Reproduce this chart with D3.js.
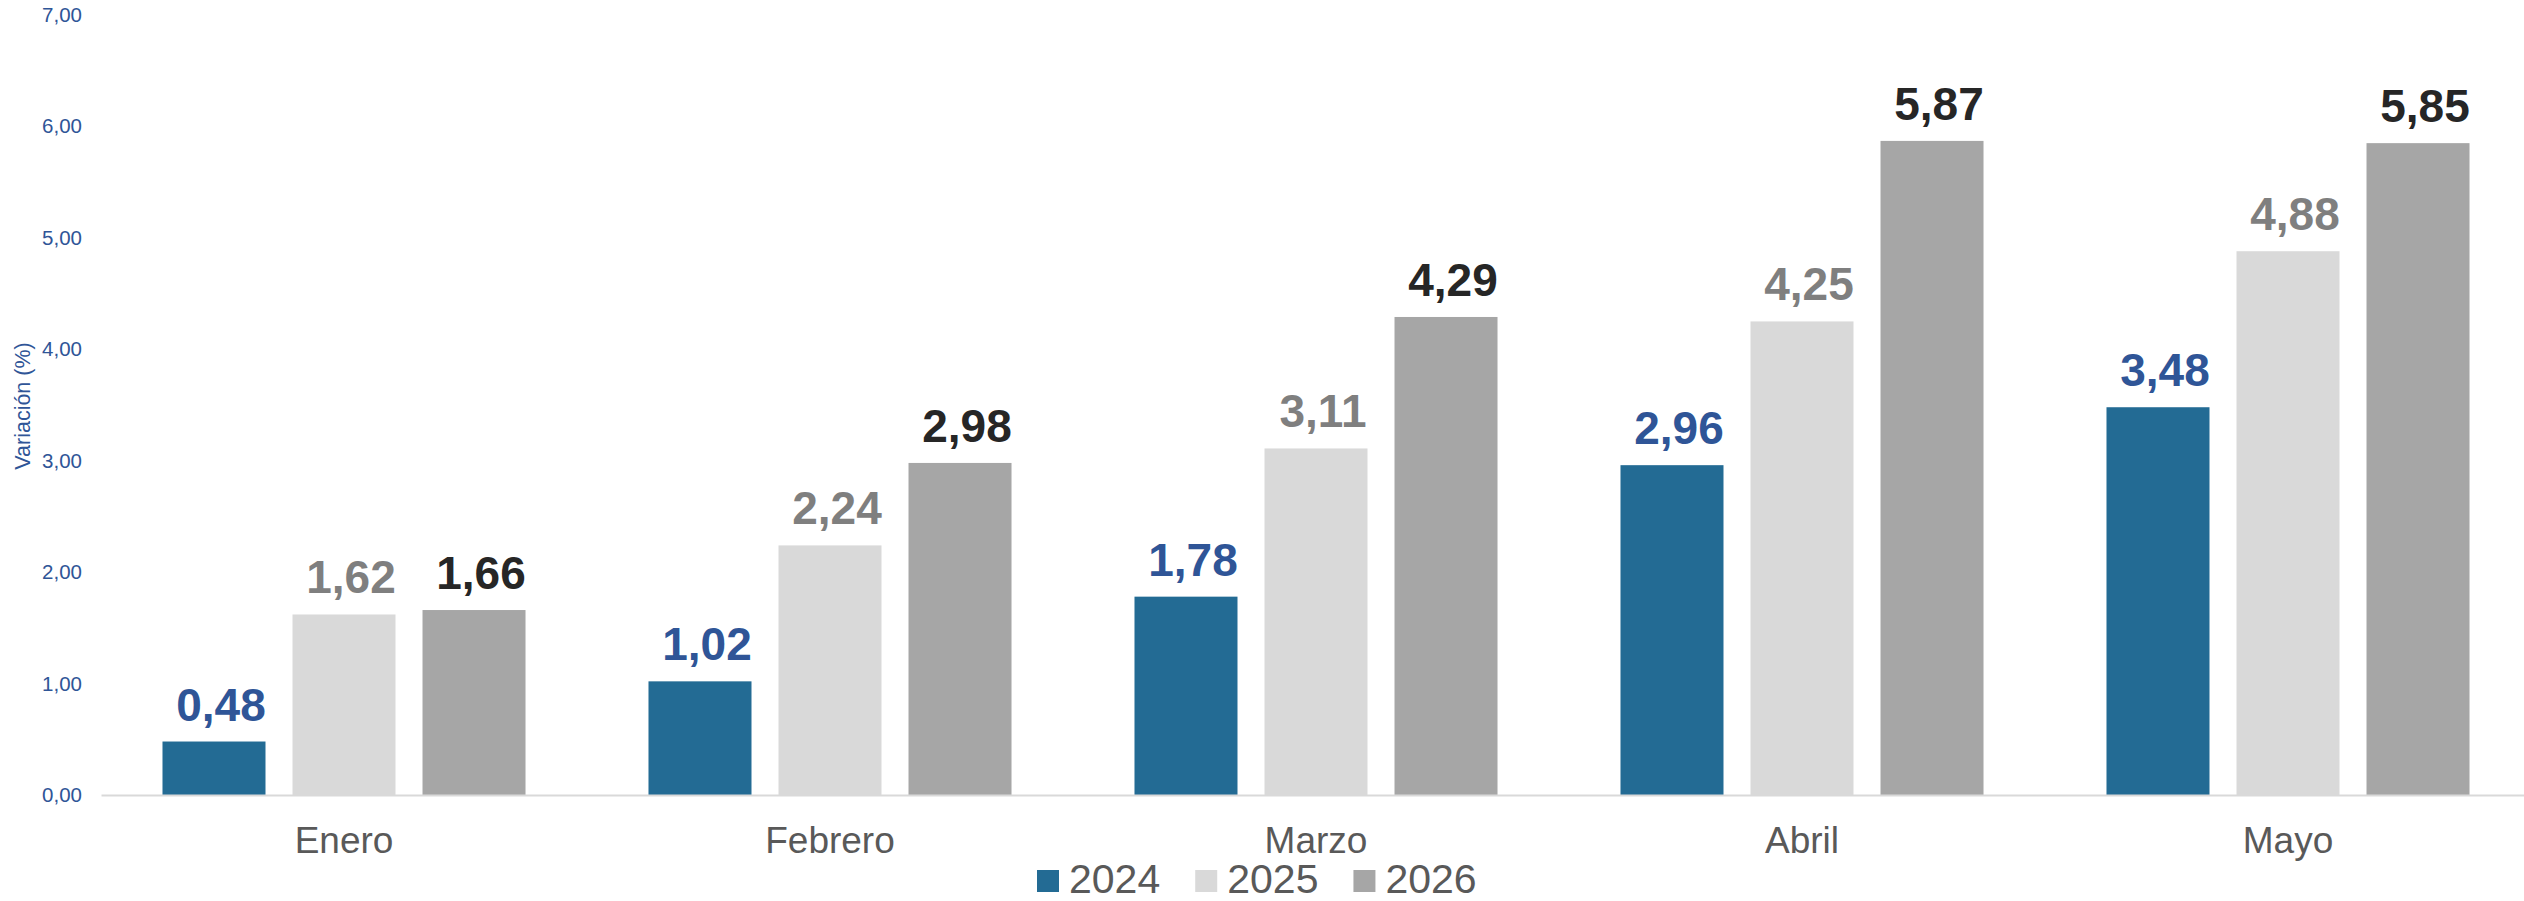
<!DOCTYPE html>
<html>
<head>
<meta charset="utf-8">
<script src="https://cdn.jsdelivr.net/npm/d3@7"></script>
<style>
  html, body { margin: 0; padding: 0; background: #ffffff; }
  svg { display: block; font-family: "Liberation Sans", Arial, sans-serif; }
</style>
</head>
<body>
<svg id="chart" width="2524" height="901"></svg>
<script>
// ---- data ----
const categories = ["Enero", "Febrero", "Marzo", "Abril", "Mayo"];
const seriesNames = ["2024", "2025", "2026"];
const values2024 = [0.48, 1.02, 1.78, 2.96, 3.48];
const values2025 = [1.62, 2.24, 3.11, 4.25, 4.88];
const values2026 = [1.66, 2.98, 4.29, 5.87, 5.85];
const yTicks = [0, 1, 2, 3, 4, 5, 6, 7];
const yTitle = "Variación (%)";

const seriesValues = [values2024, values2025, values2026];
const barColors = ["#236B94", "#D9D9D9", "#A6A6A6"];
const labelColors = ["#2F5597", "#7F7F7F", "#262626"];

const W = 2524, H = 901;
const svg = d3.select("#chart");

const locale = d3.formatLocale({decimal: ",", thousands: ".", grouping: [3], currency: ["", "€"]});
const fmt = locale.format(".2f");

const x0 = d3.scaleBand().domain(categories).range([101, 2531]).paddingInner(0).paddingOuter(0);
const x1 = d3.scaleBand().domain(seriesNames).range([0, x0.bandwidth()])
  .paddingInner(27 / 130).paddingOuter(0.473);
const y = d3.scaleLinear().domain([0, 7]).range([795, 15]);

// y axis (labels only)
const yAxis = svg.append("g")
  .attr("transform", "translate(101,0)")
  .call(d3.axisLeft(y).tickValues(yTicks).tickFormat(fmt).tickSize(0).tickPadding(19));
yAxis.select(".domain").remove();
yAxis.selectAll("text")
  .attr("fill", "#2F5597")
  .style("font-size", "20.5px")
  .style("font-family", "\"Liberation Sans\", Arial, sans-serif");

// y title
svg.append("text")
  .attr("transform", "translate(30,406) rotate(-90)")
  .attr("text-anchor", "middle")
  .attr("fill", "#2F5597")
  .style("font-size", "21.5px")
  .text(yTitle);

// bars
const rows = categories.map((c, i) => ({cat: c, vals: seriesNames.map((s, k) => ({s, k, v: seriesValues[k][i]}))}));

const groups = svg.append("g").selectAll("g")
  .data(rows).join("g")
  .attr("transform", d => `translate(${x0(d.cat)},0)`);

groups.selectAll("rect")
  .data(d => d.vals).join("rect")
  .attr("x", d => x1(d.s))
  .attr("y", d => y(d.v))
  .attr("width", x1.bandwidth())
  .attr("height", d => y(0) - y(d.v))
  .attr("fill", d => barColors[d.k]);

groups.selectAll("text.val")
  .data(d => d.vals).join("text")
  .attr("class", "val")
  .attr("x", d => x1(d.s) + x1.bandwidth() / 2 + 7)
  .attr("y", d => y(d.v) - 21)
  .attr("text-anchor", "middle")
  .attr("fill", d => labelColors[d.k])
  .style("font-size", "46px")
  .style("font-weight", "bold")
  .text(d => fmt(d.v));

// x axis
const xAxis = svg.append("g")
  .attr("transform", `translate(0,${y(0)})`)
  .call(d3.axisBottom(x0).tickSize(0).tickSizeOuter(0).tickPadding(32));
xAxis.select(".domain").attr("stroke", "#D9D9D9").attr("stroke-width", 2);
xAxis.selectAll("text")
  .attr("fill", "#595959")
  .style("font-size", "37px")
  .style("font-family", "\"Liberation Sans\", Arial, sans-serif");

// legend
const legend = svg.append("g");
let lx = 1037;
seriesNames.forEach((s, k) => {
  legend.append("rect")
    .attr("x", lx).attr("y", 870).attr("width", 22).attr("height", 22)
    .attr("fill", barColors[k]);
  const t = legend.append("text")
    .attr("x", lx + 32).attr("y", 893)
    .attr("fill", "#595959")
    .style("font-size", "41px")
    .text(s);
  lx += 32 + t.node().getComputedTextLength() + 35;
});
</script>
</body>
</html>
